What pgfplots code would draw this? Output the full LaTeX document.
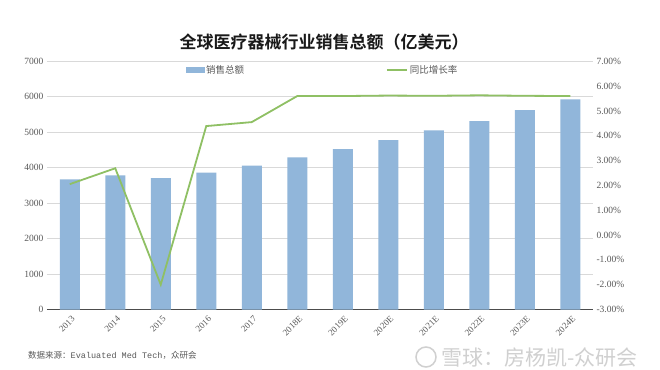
\documentclass[border=0pt]{standalone}
\usepackage{pgfplots}
\pgfplotsset{compat=1.18}
\usepackage{fontspec}
\setmainfont{Liberation Serif}
\setmonofont{Liberation Mono}
\newfontfamily\cjk{Noto Sans CJK SC}
\newfontfamily\cjkb{Noto Sans CJK SC Bold}
\definecolor{barblue}{RGB}{145,182,218}
\definecolor{lgreen}{RGB}{143,192,100}
\definecolor{gridgray}{RGB}{217,217,217}
\definecolor{labgray}{RGB}{89,89,89}
\definecolor{wmgray}{RGB}{208,208,208}
\begin{document}
\begin{tikzpicture}[x=1pt,y=1pt]
\path[use as bounding box, fill=white] (0,0) rectangle (660,369);
\begin{axis}[
  at={(47pt,59.5pt)}, anchor=south west,
  scale only axis, width=546pt, height=248.2pt,
  xmin=-0.5, xmax=11.5, ymin=0, ymax=7000,
  ytick={0,1000,...,7000},
  /pgf/number format/1000 sep={},
  /pgf/number format/assume math mode=true,
  axis x line*=bottom, axis y line*=left,
  y axis line style={draw=none},
  x axis line style={draw=black!70, line width=1pt, -},
  xtick={0,...,11},
  xticklabels={2013,2014,2015,2016,2017,2018E,2019E,2020E,2021E,2022E,2023E,2024E},
  xticklabel style={rotate=45, anchor=north east, font=\fontsize{9}{9}\selectfont, text=labgray, xshift=2pt, inner sep=2pt},
  yticklabel style={font=\fontsize{9.5}{10}\selectfont, text=labgray},
  tick style={draw=none},
  ymajorgrids, grid style={gridgray, line width=0.8pt},
  ybar, bar width=20pt,
]
\addplot[fill=barblue, draw=none] coordinates {
(0,3670) (1,3783) (2,3707) (3,3859) (4,4060) (5,4290) (6,4520) (7,4780) (8,5050) (9,5313) (10,5623) (11,5924)};
\end{axis}
\begin{axis}[
  at={(47pt,59.5pt)}, anchor=south west,
  scale only axis, width=546pt, height=248.2pt,
  xmin=-0.5, xmax=11.5, ymin=-3, ymax=7,
  axis x line=none, axis y line*=right,
  y axis line style={draw=none},
  tick style={draw=none},
  ytick={-3,-2,...,7},
  yticklabels={-3.00\%,-2.00\%,-1.00\%,0.00\%,1.00\%,2.00\%,3.00\%,4.00\%,5.00\%,6.00\%,7.00\%},
  yticklabel style={font=\fontsize{9.5}{10}\selectfont, text=labgray},
  legend columns=2,
  legend style={at={(0.248,0.965)}, anchor=west, draw=none, fill=none,
    font=\cjk\fontsize{9.5}{10}\selectfont, text=labgray,
    /tikz/every even column/.append style={column sep=140pt}},
]
\addlegendimage{legend image code/.code={\fill[barblue] (0pt,-2.5pt) rectangle (18pt,2.5pt);}}
\addlegendentry{销售总额}
\addplot[lgreen, line width=1.8pt, mark=none, legend image code/.code={\draw[lgreen, line width=1.8pt] (0pt,0pt) -- (20pt,0pt);}] coordinates {
(0,2.05) (1,2.69) (2,-2.0) (3,4.39) (4,4.55) (5,5.6) (6,5.6) (7,5.62) (8,5.61) (9,5.63) (10,5.61) (11,5.6)};
\addlegendentry{同比增长率}
\end{axis}
\node[font=\cjkb\fontsize{17}{17}\selectfont, text=black!90] at (324,327) {全球医疗器械行业销售总额（亿美元）};
\node[anchor=west, font=\fontsize{8.5}{9}\selectfont, text=labgray, inner sep=0pt] at (28,14) {{\cjk 数据来源：}{\ttfamily Evaluated Med Tech}{\cjk ，众研会}};
\draw[wmgray, line width=1.5pt] (426,12) circle (10);
\node[anchor=west, font=\cjk\fontsize{21}{21}\selectfont, text=wmgray, inner sep=0pt] at (441,12) {雪球：房杨凯-众研会};
\end{tikzpicture}
\end{document}
